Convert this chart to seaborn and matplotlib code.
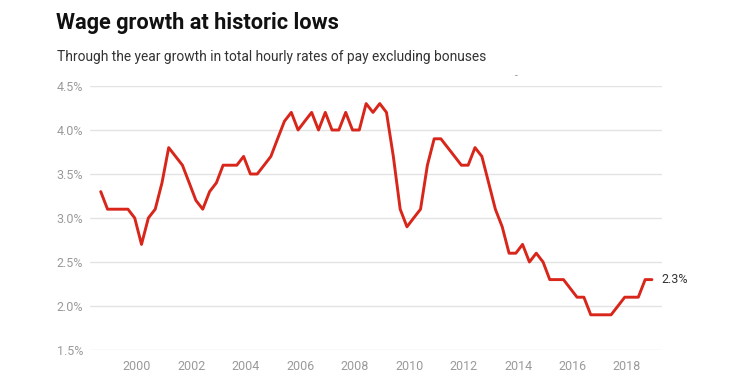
import matplotlib
matplotlib.use("Agg")
import matplotlib.pyplot as plt
import seaborn as sns
import pandas as pd

# Data: quarterly through-the-year wage growth (%), Sep 1998 - Dec 2018
start_quarter = "1998-09-01"
wage_growth = [
    3.3, 3.1, 3.1, 3.1, 3.1, 3.0, 2.7, 3.0, 3.1, 3.4,
    3.8, 3.7, 3.6, 3.4, 3.2, 3.1, 3.3, 3.4, 3.6, 3.6,
    3.6, 3.7, 3.5, 3.5, 3.6, 3.7, 3.9, 4.1, 4.2, 4.0,
    4.1, 4.2, 4.0, 4.2, 4.0, 4.0, 4.2, 4.0, 4.0, 4.3,
    4.2, 4.3, 4.2, 3.7, 3.1, 2.9, 3.0, 3.1, 3.6, 3.9,
    3.9, 3.8, 3.7, 3.6, 3.6, 3.8, 3.7, 3.4, 3.1, 2.9,
    2.6, 2.6, 2.7, 2.5, 2.6, 2.5, 2.3, 2.3, 2.3, 2.2,
    2.1, 2.1, 1.9, 1.9, 1.9, 1.9, 2.0, 2.1, 2.1, 2.1,
    2.3, 2.3,
]
quarters = pd.date_range(start_quarter, periods=len(wage_growth), freq="3MS")
y_ticks = [1.5, 2.0, 2.5, 3.0, 3.5, 4.0, 4.5]
x_tick_years = [2000, 2002, 2004, 2006, 2008, 2010, 2012, 2014, 2016, 2018]

title = "Wage growth at historic lows"
subtitle = "Through the year growth in total hourly rates of pay excluding bonuses"
end_label = "2.3%"

df = pd.DataFrame({"date": quarters, "growth": wage_growth})

sns.set_theme(style="white")
plt.rcParams["font.family"] = ["Roboto", "DejaVu Sans"]

fig = plt.figure(figsize=(7.54, 3.82), dpi=100)
ax = fig.add_axes([90 / 754, 1 - 350 / 382, (662 - 90) / 754, (350 - 86) / 382])

sns.lineplot(data=df, x="date", y="growth", ax=ax, color="#d8261b",
             linewidth=2.1, zorder=3)

ax.set_ylim(1.5, 4.5)
ax.set_yticks(y_ticks)
ax.set_yticklabels([f"{v:.1f}%" for v in y_ticks])
ax.set_xlim(pd.Timestamp("1998-04-10"), pd.Timestamp("2019-04-15"))
ax.set_xticks([pd.Timestamp(f"{y}-01-01") for y in x_tick_years])
ax.set_xticklabels([str(y) for y in x_tick_years])
ax.set_xlabel("")
ax.set_ylabel("")

ax.grid(axis="y", color="#e3e3e3", linewidth=1.0)
ax.grid(axis="x", visible=False)
ax.set_axisbelow(True)
for s in ax.spines.values():
    s.set_visible(False)
ax.tick_params(axis="both", length=0, labelsize=9, colors="#9a9a9a")
ax.tick_params(axis="y", pad=5)
ax.tick_params(axis="x", pad=7)

ax.annotate(end_label, xy=(df["date"].iloc[-1], df["growth"].iloc[-1]),
            xytext=(7, 0), textcoords="offset points", va="center", ha="left",
            fontsize=9, color="#333333")

fig.text(56 / 754, 1 - 29 / 382, title, fontsize=15.7, fontweight="bold",
         color="#111111", va="baseline", ha="left")
fig.text(57 / 754, 1 - 61 / 382, subtitle, fontsize=9.9, color="#333333",
         va="baseline", ha="left")
fig.text(516 / 754, 1 - 76 / 382, "-", fontsize=7, color="#888888",
         va="center", ha="center")

fig.savefig("out.png", dpi=100)
